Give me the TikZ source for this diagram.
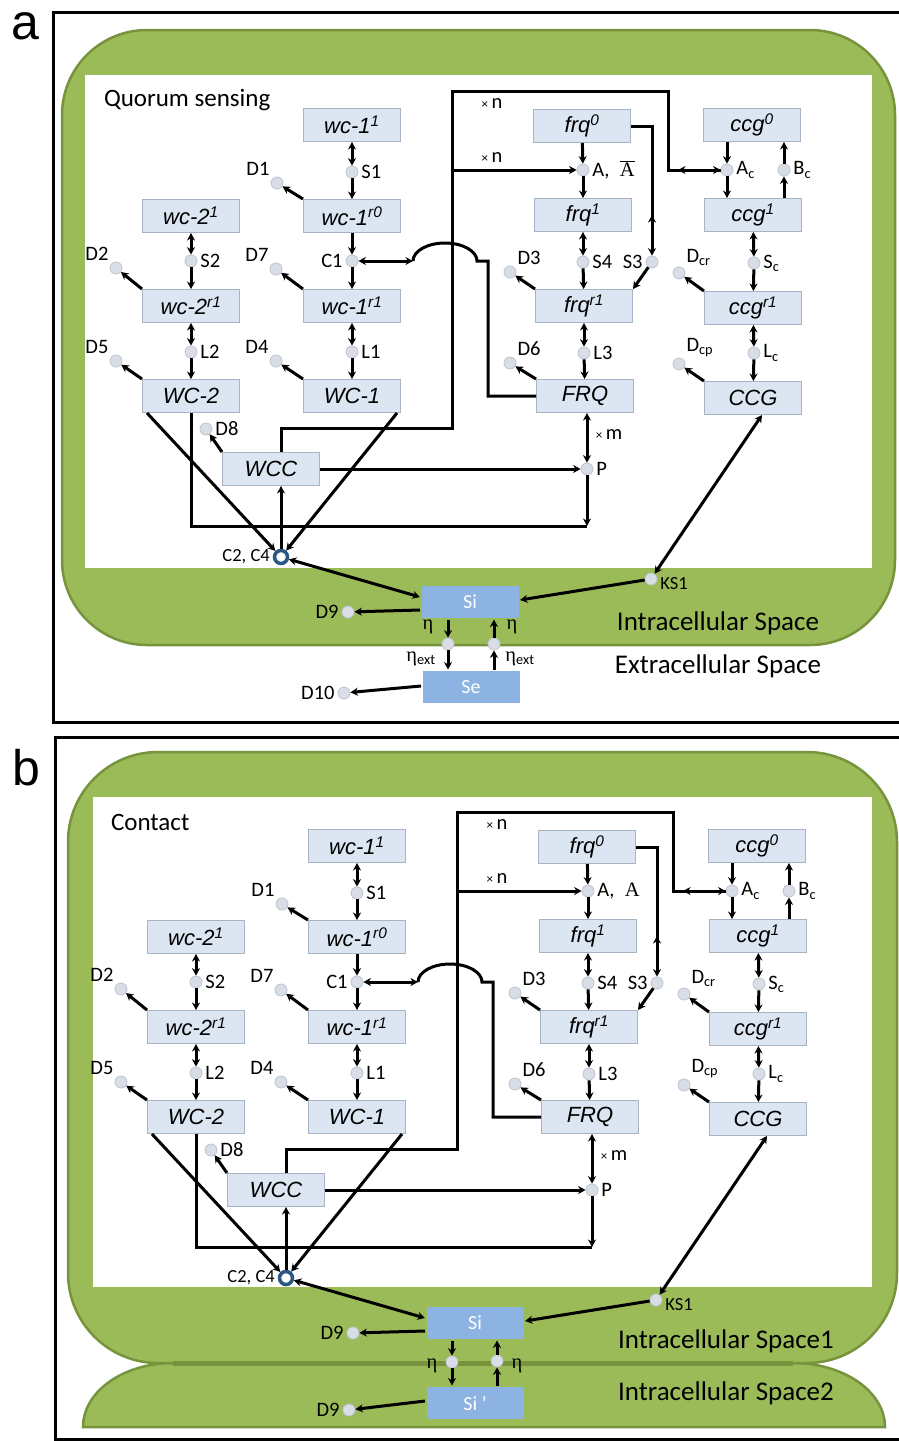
\documentclass[tikz,border=0pt]{standalone}
\usepackage{fontspec}
\setmainfont{Carlito}
\newfontfamily\boxfont{Liberation Sans}
\newfontfamily\grkfont{Liberation Serif}
\usetikzlibrary{arrows.meta, positioning}

\definecolor{cellgreen}{HTML}{9BBB59}
\definecolor{celledge}{HTML}{77933C}
\definecolor{boxfill}{HTML}{DCE6F2}
\definecolor{boxline}{HTML}{A9B4C2}
\definecolor{sifill}{HTML}{8DB3E2}
\definecolor{spotfill}{HTML}{D9DEE6}
\definecolor{spotline}{HTML}{BCC5D1}
\definecolor{ringblue}{HTML}{2A5884}

\tikzset{
	box/.style={draw=boxline, fill=boxfill, line width=1pt, minimum width=97pt, minimum height=33pt, inner sep=0pt, font=\boxfont\itshape\fontsize{22}{22}\selectfont},
	sbox/.style={fill=sifill, minimum width=97pt, minimum height=32pt, inner sep=0pt, text=white, font=\fontsize{20}{20}\selectfont},
	spot/.style={circle, fill=spotfill, draw=spotline, line width=0.8pt, minimum size=12pt, inner sep=0pt},
	ringspot/.style={circle, draw=ringblue, fill=white, line width=3.5pt, minimum size=13pt, inner sep=0pt},
	lbl/.style={font=\fontsize{20.5}{20.5}\selectfont, inner sep=1.5pt, text=black},
	big/.style={font=\fontsize{27}{27}\selectfont, inner sep=0pt},
	rxn/.style={->},
	rev/.style={<->}
}

% the reaction network of one cell, drawn in the coordinates of panel a
\newcommand\netcore[1]{%
	% wc-1
	\node[box] (wcone1) at (352,125) {wc-1\textsuperscript{1}};
	\node[box] (wconer0) at (352,216) {wc-1\textsuperscript{r0}};
	\node[box] (wconer1) at (352,306) {wc-1\textsuperscript{r1}};
	\node[box] (WCone) at (352,396) {WC-1};
	\node[spot, label={[lbl]right:S1}] (S1) at (352,172) {};
	\node[spot, label={[lbl]left:C1}] (C1) at (352,261) {};
	\node[spot, label={[lbl]right:L1}] (L1) at (352,352) {};
	\node[spot, label={[lbl]above left:D1}] (D1) at (277,183) {};
	\node[spot, label={[lbl]above left:D7}] (D7) at (276,269) {};
	\node[spot, label={[lbl]above left:D4}] (D4) at (276,361) {};
	% wc-2
	\node[box] (wctwo1) at (191,216) {wc-2\textsuperscript{1}};
	\node[box] (wctwor1) at (191,306) {wc-2\textsuperscript{r1}};
	\node[box] (WCtwo) at (191,396) {WC-2};
	\node[spot, label={[lbl]right:S2}] (S2) at (191,261) {};
	\node[spot, label={[lbl]right:L2}] (L2) at (191,352) {};
	\node[spot, label={[lbl]above left:D2}] (D2) at (116,268) {};
	\node[spot, label={[lbl]above left:D5}] (D5) at (116,361) {};
	% WCC
	\node[box] (WCC) at (271,469) {WCC};
	\node[spot, label={[lbl]right:D8}] (D8) at (206,429) {};
	\node[ringspot, label={[lbl, font=\fontsize{18.5}{18.5}\selectfont]left:{C2, C4}}] (ring) at (281,557) {};
	% frq
	\node[box] (frq0) at (582,126) {frq\textsuperscript{0}};
	\node[box] (frq1) at (583,215) {frq\textsuperscript{1}};
	\node[box] (frqr1) at (584,306) {frq\textsuperscript{r1}};
	\node[box] (FRQ) at (585,396) {FRQ};
	\node[spot, label={[lbl]right:{#1}}] (A) at (583,170) {};
	\node[spot, label={[lbl]right:S4}] (S4) at (583,262) {};
	\node[spot, label={[lbl]left:S3}] (S3) at (652,262) {};
	\node[spot, label={[lbl]right:L3}] (L3) at (584,353) {};
	\node[spot, label={[lbl]above right:D3}] (D3) at (510,272) {};
	\node[spot, label={[lbl]above right:D6}] (D6) at (510,363) {};
	\node[spot, label={[lbl]right:P}] (P) at (587,469) {};
	% ccg
	\node[box] (ccg0) at (752,125) {ccg\textsuperscript{0}};
	\node[box] (ccg1) at (753,215) {ccg\textsuperscript{1}};
	\node[box] (ccgr1) at (753,308) {ccg\textsuperscript{r1}};
	\node[box] (CCG) at (753,398) {CCG};
	\node[spot, label={[lbl]right:A\textsubscript{c}}] (Ac) at (727,170) {};
	\node[spot, label={[lbl]right:B\textsubscript{c}}] (Bc) at (784,170) {};
	\node[spot, label={[lbl]right:S\textsubscript{c}}] (Sc) at (754,263) {};
	\node[spot, label={[lbl]right:L\textsubscript{c}}] (Lc) at (754,353) {};
	\node[spot, label={[lbl]above right:D\textsubscript{cr}}] (Dcr) at (679,273) {};
	\node[spot, label={[lbl]above right:D\textsubscript{cp}}] (Dcp) at (679,364) {};
	% signal
	\node[sbox] (Si) at (470,602) {Si};
	\node[spot, label={[lbl, font=\fontsize{18.5}{18.5}\selectfont, yshift=-5pt]right:KS1}] (KS1) at (651,579) {};
	\node[spot, label={[lbl]left:D9}] (D9) at (348,612) {};
	\node[lbl] (xna) at (492,104) {{\fontsize{13}{13}\selectfont ×}\,n};
	\node[lbl] (xnb) at (492,158) {{\fontsize{13}{13}\selectfont ×}\,n};
	\node[lbl] (xm) at (609,435) {{\fontsize{13}{13}\selectfont ×}\,m};
	\coordinate (busb) at (452,428);
	\coordinate (bust) at (452,91);
	\coordinate (acin) at (668,170);
	\coordinate (humpl) at (413,261);
	\coordinate (pcorner) at (587,526);
	% wc-1 reactions
	\draw[rev] (wcone1) -- (S1);
	\draw[rxn] (S1) -- (wconer0);
	\draw[rxn] (wconer0) -- (C1);
	\draw[rxn] (C1) -- (wconer1);
	\draw[rev] (wconer1) -- (L1);
	\draw[rxn] (L1) -- (WCone);
	\draw[rxn] (wconer0.north west) -- (D1);
	\draw[rxn] (wconer1.north west) -- (D7);
	\draw[rxn] (WCone.north west) -- (D4);
	% wc-2 reactions
	\draw[rev] (wctwo1) -- (S2);
	\draw[rxn] (S2) -- (wctwor1);
	\draw[rev] (wctwor1) -- (L2);
	\draw[rxn] (L2) -- (WCtwo);
	\draw[rxn] (wctwor1.north west) -- (D2);
	\draw[rxn] (WCtwo.north west) -- (D5);
	\draw[rxn] (WCC.north west) -- (D8);
	% complex
	\draw[rxn] ([xshift=5pt]WCtwo.south west) -- (ring);
	\draw[rxn] ([xshift=-4pt]WCone.south east) -- (ring);
	\draw[rxn] (ring) -- (ring |- WCC.south);
	\draw[rev] ([yshift=5pt]Si.west) -- (ring);
	\draw[rxn] ([yshift=-8pt]Si.west) -- (D9);
	\draw[rxn] (KS1) -- ([yshift=2pt]Si.east);
	\draw[rev] ([xshift=9pt]CCG.south) -- (KS1);
	% P
	\draw[rxn] (WCC) -- (P);
	\draw[rev] (FRQ.south -| P) -- (P);
	\draw[rxn] (P) -- (pcorner);
	\draw (WCtwo.south) |- (pcorner);
	% WCC to the promoters
	\draw (ring |- WCC.north) |- (busb) -- (bust) -| (acin) -- (Ac);
	\draw[rev] ([xshift=10pt]acin) -- (Ac);
	\draw[rxn] (bust |- A) -- (A);
	% frq reactions
	\draw[rxn] (frq0) -- (A);
	\draw[rxn] (A) -- (frq1);
	\draw[rev] (frq1) -- (S4);
	\draw[rxn] (S4) -- (frqr1);
	\draw[rev] (frqr1) -- (L3);
	\draw[rxn] (L3) -- (FRQ);
	\draw[rxn] (frqr1.north west) -- (D3);
	\draw[rxn] (FRQ.north west) -- (D6);
	\draw[rxn] (frq0.east) -| (S3);
	\draw[rxn] (S3 |- frq1.south) -- (S3 |- frq1.center);
	\draw[rxn] (S3) -- (frqr1.north east);
	% FRQ to C1
	\draw[rev] (C1) -- (humpl);
	\draw (humpl) arc[start angle=180, end angle=0, x radius=32pt, y radius=18pt] -- ++(11,0) |- (FRQ.west);
	% ccg reactions
	\draw[rxn] (Ac |- ccg0.south) -- (Ac);
	\draw[rxn] (Ac) -- (Ac |- ccg1.north);
	\draw[rxn] (Bc |- ccg1.north) -- (Bc);
	\draw[rxn] (Bc) -- (Bc |- ccg0.south);
	\draw[rev] (ccg1) -- (Sc);
	\draw[rxn] (Sc) -- (ccgr1);
	\draw[rev] (ccgr1) -- (Lc);
	\draw[rxn] (Lc) -- (CCG);
	\draw[rxn] (ccgr1.north west) -- (Dcr);
	\draw[rxn] (CCG.north west) -- (Dcp);
}

\begin{document}
\begin{tikzpicture}[x=1pt, y=-1pt, line width=3pt, >={Stealth[length=7.5pt, width=8pt]}]
	\useasboundingbox (0,0) rectangle (899,1441);
	
	% cells
	\filldraw[fill=cellgreen, draw=celledge, line width=2.5pt, rounded corners=85pt] (62,30) rectangle (895,645);
	\fill[white] (85,75) rectangle (872,568);
	\filldraw[fill=cellgreen, draw=celledge, line width=2.5pt] (83,1427) arc[start angle=180, end angle=90, x radius=90pt, y radius=64pt] -- (793,1363) arc[start angle=90, end angle=0, x radius=92pt, y radius=64pt] -- cycle;
	\filldraw[fill=cellgreen, draw=celledge, line width=2.5pt, rounded corners=90pt] (68,752) rectangle (897,1363);
	\draw[celledge, line width=5pt] (173,1363) -- (793,1363);
	\fill[white] (93,797) rectangle (872,1287);
	
	% frames
	\draw (899,12) -| (53,722) -- (899,722);
	\draw (899,737) -| (55,1439) -- (899,1439);
	\node[font=\boxfont\fontsize{50}{50}\selectfont, inner sep=0pt, anchor=base] (pa) at (25,39) {a};
	\node[font=\boxfont\fontsize{50}{50}\selectfont, inner sep=0pt, anchor=base] (pb) at (26,785) {b};
	
	% panel a
	\node[lbl, font=\fontsize{25}{25}\selectfont, anchor=west] (qs) at (101,100) {Quorum sensing};
	\begin{scope}[name prefix=a-]
		\netcore{A,\enspace$\overline{\hbox{\grkfont A}}$}
	\end{scope}
	\node[spot] (etaa1) at (448,644) {};
	\node[spot] (etaa2) at (494,644) {};
	\node[sbox] (Se) at (471,687) {Se};
	\node[spot, label={[lbl]left:D10}] (D10) at (344,693) {};
	\draw[rxn] (a-Si.south -| etaa1) -- (etaa1);
	\draw[rxn] (etaa1) -- (etaa1 |- Se.north);
	\draw[rxn] (etaa2 |- Se.north) -- (etaa2);
	\draw[rxn] (etaa2) -- (etaa2 |- a-Si.south);
	\draw[rxn] ([yshift=1pt]Se.west) -- (D10);
	\node[lbl] (etal) at (428,627) {\grkfont η};
	\node[lbl] (etar) at (512,627) {\grkfont η};
	\node[lbl] (etxl) at (421,659) {{\grkfont η}\textsubscript{ext}};
	\node[lbl] (etxr) at (520,659) {{\grkfont η}\textsubscript{ext}};
	\node[big] (ics) at (718,623) {Intracellular Space};
	\node[big] (ecs) at (718,666) {Extracellular Space};
	
	% panel b
	\node[lbl, font=\fontsize{25}{25}\selectfont, anchor=west] (ct) at (108,822) {Contact};
	\begin{scope}[name prefix=b-, shift={(5,721)}]
		\netcore{A,\enspace{\grkfont A}}
	\end{scope}
	\node[spot] (etab1) at (452,1362) {};
	\node[spot] (etab2) at (497,1361) {};
	\node[sbox] (Sip) at (475,1403) {Si ’};
	\node[spot, label={[lbl]left:D9}] (D9b) at (349,1410) {};
	\draw[rxn] (b-Si.south -| etab1) -- (etab1);
	\draw[rxn] (etab1) -- (etab1 |- Sip.north);
	\draw[rxn] (etab2 |- Sip.north) -- (etab2);
	\draw[rxn] (etab2) -- (etab2 |- b-Si.south);
	\draw[rxn] ([yshift=2pt]Sip.west) -- (D9b);
	\node[lbl] (etbl) at (432,1366) {\grkfont η};
	\node[lbl] (etbr) at (517,1366) {\grkfont η};
	\node[big] (icsa) at (726,1341) {Intracellular Space1};
	\node[big] (icsb) at (726,1393) {Intracellular Space2};
\end{tikzpicture}
\end{document}
